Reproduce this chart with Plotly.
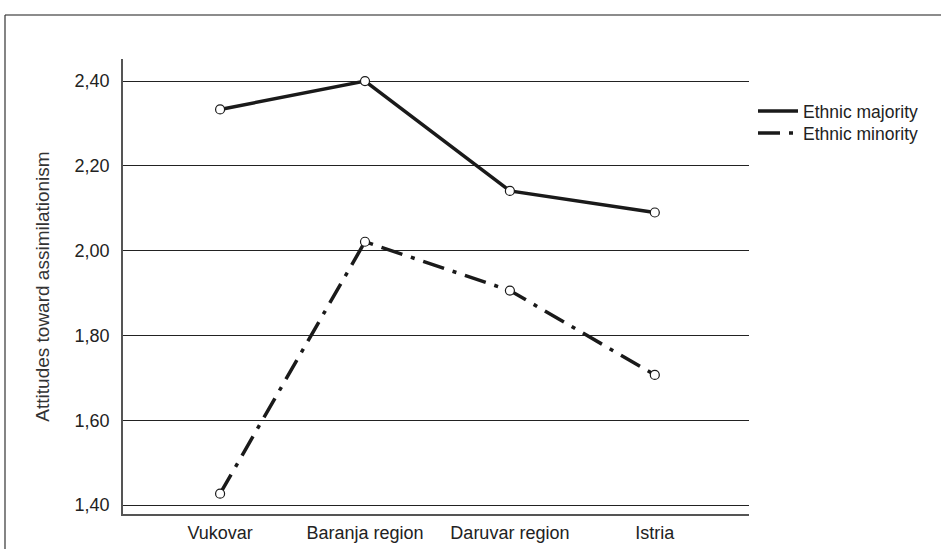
import plotly.graph_objects as go

regions = ["Vukovar", "Baranja region", "Daruvar region", "Istria"]
majority = [2.333, 2.40, 2.141, 2.090]
minority = [1.427, 2.021, 1.906, 1.707]
y_ticks = [1.40, 1.60, 1.80, 2.00, 2.20, 2.40]

L, R, T, B = 123, 749, 59, 514
W, H = 941, 549

fig = go.Figure()
fig.add_trace(go.Scatter(x=regions, y=majority, mode="lines", name="Ethnic majority",
                         legend="legend",
                         line=dict(color="#1a1a1a", width=3.5)))
fig.add_trace(go.Scatter(x=regions, y=minority, mode="lines", name="Ethnic minority",
                         legend="legend2",
                         line=dict(color="#1a1a1a", width=3.5, dash="22px,9px,4px,9px")))
for ys in (majority, minority):
    fig.add_trace(go.Scatter(x=regions, y=ys, mode="markers", showlegend=False,
                             marker=dict(size=9, color="white",
                                         line=dict(color="#1a1a1a", width=1.2))))

def px(xp):
    return (xp - L) / (R - L)

def py(yp):
    return (B - yp) / (B - T)

fig.add_shape(type="line", xref="paper", yref="paper", x0=px(5), y0=py(15), x1=px(945), y1=py(15),
              line=dict(color="#666666", width=1.5))
fig.add_shape(type="line", xref="paper", yref="paper", x0=px(5), y0=py(15), x1=px(5), y1=py(555),
              line=dict(color="#333333", width=1.2))

leg_common = dict(xanchor="left", yanchor="middle", font=dict(size=17.5, color="#222222"),
                  bgcolor="rgba(0,0,0,0)", itemwidth=40)

fig.update_layout(
    width=W, height=H,
    margin=dict(l=L, r=W - R, t=T, b=H - B, autoexpand=False),
    paper_bgcolor="white", plot_bgcolor="white",
    separators=", ",
    font=dict(family="Liberation Sans, Arial, sans-serif", size=18, color="#222222"),
    legend=dict(x=px(753), y=py(111), **leg_common),
    legend2=dict(x=px(753), y=py(133), **leg_common),
    xaxis=dict(range=[-0.67, 3.65], showgrid=False, showline=True, linecolor="#555555",
               linewidth=1.5, ticks="", ticklabelstandoff=2, zeroline=False, automargin=False),
    yaxis=dict(range=[1.379, 2.452], tickvals=y_ticks, tickformat=".2f",
               showgrid=True, gridcolor="#222222", gridwidth=1,
               showline=True, linecolor="#555555", linewidth=1.5, ticks="",
               ticklabelstandoff=8, zeroline=False, automargin=False,
               title=dict(text="Attitudes toward assimilationism", font=dict(size=19, color="#333333"),
                          standoff=20)),
)

fig.write_html("out.html", config={"displayModeBar": False},
               post_script="document.body.style.margin='0';")
